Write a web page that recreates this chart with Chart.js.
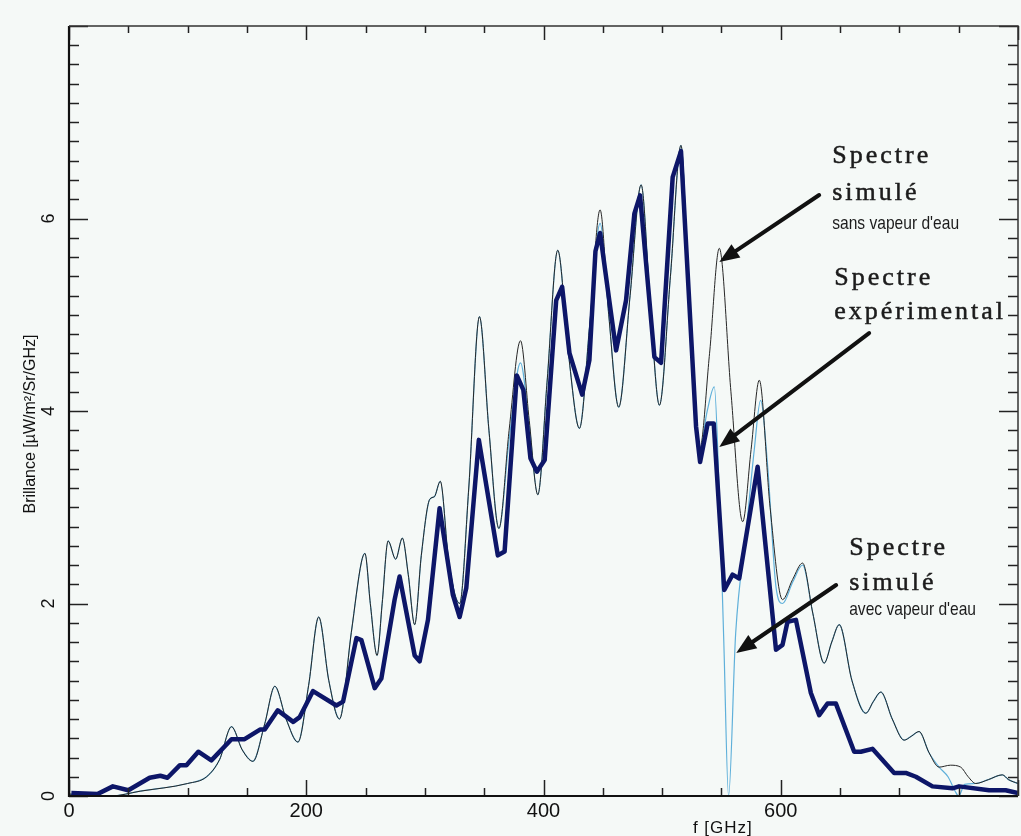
<!DOCTYPE html>
<html><head><meta charset="utf-8">
<script src="https://cdn.jsdelivr.net/npm/chart.js@4.4.1/dist/chart.umd.min.js"></script>
<style>html,body{margin:0;padding:0;background:#f5f9f7;overflow:hidden}#wrap{width:1021px;height:836px}</style>
</head><body><div id="wrap"><canvas id="c" width="1021" height="836"></canvas></div>
<script>
// Experimental spectrum (thick navy)
const expFreq = [2,24,37,50,68,77,83,93.5,99,109,120,137,148,161,165,176,189,194.5,205.7,225.4,231,242.3,246.5,257.7,263.3,274.5,278.7,291.4,295.6,302.6,312.4,323.6,329.3,334.9,345.5,361.5,367.2,377.5,383,389,394.4,401,410.7,415.7,421.9,432.6,438.7,443.8,447.7,461.2,469.6,476.6,481.4,493.5,499.1,508.9,515.9,528.6,532,538.4,543.5,552.4,559.4,565,580.5,596,601.5,605.7,612.8,625.4,632.4,639.4,646.5,661.9,667.5,677.3,695.6,705.4,713.9,727.9,744.8,750.3,775.6,789.6,800];
const expVal  = [0.03,0.02,0.10,0.06,0.19,0.21,0.19,0.32,0.32,0.46,0.37,0.59,0.59,0.69,0.69,0.89,0.77,0.82,1.09,0.94,0.98,1.64,1.62,1.12,1.22,2.04,2.28,1.46,1.40,1.83,2.99,2.09,1.86,2.16,3.70,2.50,2.54,4.37,4.22,3.51,3.37,3.49,5.15,5.29,4.60,4.17,4.53,5.66,5.85,4.63,5.15,6.05,6.24,4.56,4.50,6.43,6.70,3.84,3.47,3.87,3.87,2.14,2.30,2.26,3.42,1.52,1.57,1.81,1.83,1.07,0.84,0.96,0.96,0.46,0.46,0.49,0.24,0.24,0.20,0.10,0.08,0.10,0.06,0.06,0.03];

// Simulated spectrum without water vapour (thin black)
const simFreq = [0,15,35,60,100,116,127,137,146,155,165,173.5,183,193,202,210.5,219,228,238,246.5,249.5,254,259.7,264,269,275.4,281,286,291.4,297,304,308,313,320,329.3,337,346,354,362.4,371,380.6,388,395.2,403,412,421,430.3,439,447.7,455,463.4,473,482.3,490,497.7,507,515.9,523,531.4,540,548.2,558,567.9,575,581.9,591,601.5,610,618.4,627,636.6,643,649.3,660,671.7,678,684.4,694,704,710,716.6,725,733.5,743,751.7,758,764.4,775,786.8,792,800];
const simVal  = [0.02,0.01,0.0,0.05,0.13,0.20,0.38,0.72,0.48,0.36,0.75,1.14,0.80,0.56,1.15,1.86,1.20,0.80,1.70,2.43,2.52,2.00,1.46,2.00,2.65,2.46,2.68,2.30,1.78,2.50,3.08,3.11,3.27,2.45,2.00,3.20,4.98,3.80,2.78,3.80,4.73,3.90,3.13,4.30,5.67,4.60,3.82,4.90,6.09,5.00,4.04,5.20,6.35,5.10,4.06,5.40,6.76,5.00,3.59,4.60,5.69,4.20,2.85,3.60,4.32,3.00,2.04,2.25,2.42,1.90,1.38,1.60,1.78,1.20,0.86,0.98,1.08,0.80,0.58,0.62,0.67,0.45,0.30,0.32,0.30,0.20,0.13,0.17,0.22,0.17,0.13];

// Simulated spectrum with water vapour (thin light blue)
const vapFreq = [0,15,35,60,100,116,127,137,146,155,165,173.5,183,193,202,210.5,219,228,238,246.5,249.5,254,259.7,264,269,275.4,281,286,291.4,297,304,308,313,320,329.3,337,346,354,362.4,371,380.6,388,395.2,403,412,421,430.3,439,447.7,455,463.4,473,482.3,490,497.7,507,515.9,523,531.4,538,544,548,552,556,562,570.7,577.7,583,589,596,601.5,610,618.4,627,636.6,643,649.3,660,671.7,678,684.4,694,704,710,716.6,725,733.5,741,747,750,755,764.4,775,786.8,792,800];
const vapVal  = [0.02,0.01,0.0,0.05,0.13,0.20,0.38,0.72,0.48,0.36,0.75,1.14,0.80,0.56,1.15,1.86,1.20,0.80,1.70,2.43,2.52,2.00,1.46,2.00,2.65,2.46,2.68,2.30,1.78,2.50,3.08,3.11,3.27,2.45,2.00,3.20,4.98,3.80,2.78,3.70,4.50,3.85,3.13,4.30,5.67,4.60,3.82,4.90,5.95,5.00,4.04,5.20,6.35,5.10,4.06,5.40,6.76,5.00,3.59,4.00,4.25,3.20,1.60,0.00,1.69,2.73,3.60,4.11,3.42,2.17,2.00,2.22,2.40,1.90,1.38,1.60,1.78,1.20,0.86,0.98,1.08,0.80,0.58,0.62,0.67,0.45,0.30,0.20,0.05,0.00,0.12,0.13,0.17,0.22,0.17,0.13];

// Tick labels
const xTickValues = [0,200,400,600];
const yTickValues = [0,2,4,6];
const xTitle = 'f [GHz]';
const yTitle = 'Brillance [µW/m²/Sr/GHz]';

// Annotation texts (data coordinates: f, brillance baseline)
const noteTexts = ['Spectre','simulé','sans vapeur d\'eau','Spectre','expérimental','Spectre','simulé','avec vapeur d\'eau'];
const noteKinds = ['serif','serif','sans','serif','serif','serif','serif','sans'];
const noteF     = [643.4,643.4,643.4,645.1,645.1,657.7,657.7,657.7];
const noteB     = [6.577,6.192,5.891,5.309,4.956,2.504,2.140,1.881];
// Arrows: tail -> head in data coordinates
const arrowTailF = [632.4,674.5,646.7];
const arrowTailB = [6.244,4.810,2.192];
const arrowHeadF = [548.2,548.2,562.5];
const arrowHeadB = [5.548,3.626,1.486];

const pts = (fs, vs) => fs.map((f,i)=>({x:f,y:vs[i]}));

const decor = {
  id:'decor',
  beforeDraw(chart){
    const c=chart.ctx; c.save(); c.fillStyle='#f5f9f7'; c.fillRect(0,0,chart.width,chart.height); c.restore();
  },
  afterDraw(chart){
    const c=chart.ctx, a=chart.chartArea, xs=chart.scales.x, ys=chart.scales.y;
    c.save();
    // ticks
    c.strokeStyle='#222'; c.lineWidth=1.5;
    for(let i=0;i<=16;i++){
      const v=i*50, px=Math.round(xs.getPixelForValue(v))+0.5;
      const L=(v%200===0)?16:8;
      c.beginPath(); c.moveTo(px,a.bottom); c.lineTo(px,a.bottom-L); c.stroke();
      c.beginPath(); c.moveTo(px,a.top); c.lineTo(px,a.top+((v%200===0)?14:7)); c.stroke();
    }
    for(let i=0;i<=40;i++){
      const py=Math.round(ys.getPixelForValue(i*0.2))+0.5;
      const L=(i%10===0)?19:10;
      c.beginPath(); c.moveTo(a.left,py); c.lineTo(a.left+L,py); c.stroke();
      c.beginPath(); c.moveTo(a.right,py); c.lineTo(a.right-L,py); c.stroke();
    }
    // frame
    c.strokeStyle='#111'; c.lineWidth=2.2;
    c.beginPath(); c.moveTo(a.left,a.top); c.lineTo(a.left,a.bottom); c.lineTo(a.right,a.bottom); c.stroke();
    c.lineWidth=1.5; c.strokeStyle='#333';
    c.beginPath(); c.moveTo(a.left,a.top); c.lineTo(a.right,a.top); c.lineTo(a.right,a.bottom); c.stroke();
    // y tick labels rotated
    c.fillStyle='#111'; c.font='18px "Liberation Sans", Arial, sans-serif';
    c.textAlign='center'; c.textBaseline='middle';
    yTickValues.forEach(v=>{
      const py=ys.getPixelForValue(v);
      c.save(); c.translate(a.left-20,py); c.rotate(-Math.PI/2); c.fillText(String(v),0,0); c.restore();
    });
    // y title
    c.font='16px "Liberation Sans", Arial, sans-serif';
    c.save(); c.translate(a.left-38,(a.top+a.bottom)/2+13); c.rotate(-Math.PI/2); c.fillText(yTitle,0,0); c.restore();
    // x title
    c.font='17px "Liberation Sans", Arial, sans-serif'; c.letterSpacing='1px';
    c.textBaseline='middle';
    c.fillText(xTitle, a.left+(a.right-a.left)*0.689, a.bottom+32);
    c.letterSpacing='0px';
    // annotations
    c.textAlign='left'; c.textBaseline='alphabetic'; c.fillStyle='#1c1c1c';
    noteTexts.forEach((t,i)=>{
      const px=xs.getPixelForValue(noteF[i]), py=ys.getPixelForValue(noteB[i]);
      if(noteKinds[i]==='serif'){
        c.font='26px "Liberation Serif", "DejaVu Serif", serif'; c.letterSpacing='3px';
        c.strokeStyle='#1c1c1c'; c.lineWidth=0.5;
        c.fillText(t,px,py); c.strokeText(t,px,py); c.letterSpacing='0px';
      } else {
        c.font='19px "Liberation Sans", Arial, sans-serif';
        c.save(); c.translate(px,py); c.scale(0.82,1); c.fillText(t,0,0); c.restore();
      }
    });
    // arrows
    c.strokeStyle='#111'; c.fillStyle='#111'; c.lineWidth=4; c.lineCap='round';
    for(let i=0;i<arrowTailF.length;i++){
      const x1=xs.getPixelForValue(arrowTailF[i]), y1=ys.getPixelForValue(arrowTailB[i]);
      const x2=xs.getPixelForValue(arrowHeadF[i]), y2=ys.getPixelForValue(arrowHeadB[i]);
      const ang=Math.atan2(y2-y1,x2-x1), hl=20, hw=8;
      const bx=x2-hl*Math.cos(ang), by=y2-hl*Math.sin(ang);
      c.beginPath(); c.moveTo(x1,y1); c.lineTo(bx,by); c.stroke();
      c.beginPath(); c.moveTo(x2,y2);
      c.lineTo(bx+hw*Math.sin(ang), by-hw*Math.cos(ang));
      c.lineTo(bx-hw*Math.sin(ang), by+hw*Math.cos(ang));
      c.closePath(); c.fill();
    }
    c.restore();
  }
};

new Chart(document.getElementById('c'),{
  type:'line',
  data:{datasets:[
    {label:'Spectre expérimental', data:pts(expFreq,expVal), borderColor:'#0d1668', borderWidth:4.5, pointRadius:0, tension:0, order:1, borderJoinStyle:'round'},
    {label:'Spectre simulé sans vapeur d\'eau', data:pts(simFreq,simVal), borderColor:'#262626', borderWidth:1, pointRadius:0, cubicInterpolationMode:'monotone', order:2},
    {label:'Spectre simulé avec vapeur d\'eau', data:pts(vapFreq,vapVal), borderColor:'#5fb0da', borderWidth:1.2, pointRadius:0, cubicInterpolationMode:'monotone', order:3}
  ]},
  options:{
    responsive:false, animation:false, devicePixelRatio:1,
    layout:{padding:{top:26,right:3,left:0,bottom:0}},
    plugins:{legend:{display:false}, tooltip:{enabled:false}},
    scales:{
      x:{type:'linear', min:0, max:800,
        afterBuildTicks:s=>{s.ticks=xTickValues.map(v=>({value:v}));},
        afterFit:s=>{s.height=40;},
        grid:{display:false, drawTicks:false}, border:{display:false},
        ticks:{padding:3, color:'#111', font:{size:20, family:'"Liberation Sans", Arial, sans-serif'}, maxRotation:0, minRotation:0}
      },
      y:{type:'linear', min:0, max:8,
        afterBuildTicks:s=>{s.ticks=yTickValues.map(v=>({value:v}));},
        afterFit:s=>{s.width=69;},
        grid:{display:false, drawTicks:false}, border:{display:false},
        ticks:{display:false}
      }
    }
  },
  plugins:[decor]
});
</script></body></html>
